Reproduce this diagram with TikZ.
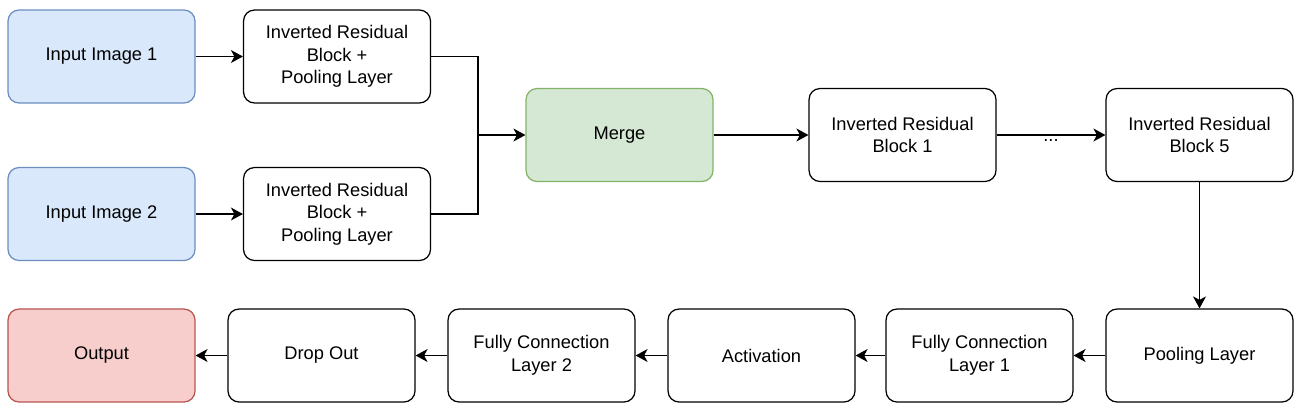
\documentclass[tikz,border=0pt]{standalone}
\usepackage{fontspec}
\setmainfont{Liberation Sans}
\usepackage{xcolor}
\usetikzlibrary{arrows.meta}
\tikzset{>={Stealth[width=2.6mm,length=2.4mm,inset=0.7mm]}}

\definecolor{blueF}{HTML}{DAE8FC}
\definecolor{blueD}{HTML}{6C8EBF}
\definecolor{greenF}{HTML}{D5E8D4}
\definecolor{greenD}{HTML}{82B366}
\definecolor{redF}{HTML}{F8CECC}
\definecolor{redD}{HTML}{B85450}

\tikzset{
  block/.style={draw=black, fill=white, rounded corners=0.22cm, line width=0.7pt,
    minimum width=3.74cm, minimum height=1.86cm, align=center,
    font=\fontsize{10.4}{12.8}\selectfont},
  inblock/.style={block, draw=blueD, fill=blueF},
  mergeblock/.style={block, draw=greenD, fill=greenF},
  outblock/.style={block, draw=redD, fill=redF},
  link/.style={line width=0.7pt, black}
}

\begin{document}
\begin{tikzpicture}[x=0.02cm,y=-0.02cm]

  \useasboundingbox (0,0) rectangle (1307,414);

  \node[inblock] (inone) at (101.5,56.5) {Input Image 1};
  \node[inblock] (intwo) at (101.5,214) {Input Image 2};
  \node[block] (irbone) at (337,56.5) {Inverted Residual\\Block +\\Pooling Layer};
  \node[block] (irbtwo) at (337,214) {Inverted Residual\\Block +\\Pooling Layer};

  \node[mergeblock] (merge) at (619.5,135) {Merge};
  \node[block] (blkone) at (902.5,135) {Inverted Residual\\Block 1};
  \node[block] (blkfive) at (1199.5,135) {Inverted Residual\\Block 5};

  \node[block] (pool) at (1199.5,355.5) {Pooling Layer};
  \node[block] (fcone) at (979.5,355.5) {Fully Connection\\Layer 1};
  \node[block] (act) at (761.5,355.5) {Activation};
  \node[block] (fctwo) at (541.5,355.5) {Fully Connection\\Layer 2};
  \node[block] (drop) at (321.5,355.5) {Drop Out};
  \node[outblock] (out) at (101.5,355.5) {Output};

  \coordinate (J) at (478,135);

  \draw[link,->] (inone) -- (irbone);
  \draw[link,->] (intwo) -- (irbtwo);
  \draw[link] (irbone.east) -| (J);
  \draw[link] (irbtwo.east) -| (J);
  \draw[link,->] (J) -- (merge.west);

  \draw[link,->] (merge) -- (blkone);
  \draw[link,->] (blkone) -- node[fill=white, inner sep=1pt, yshift=-3pt,
    font=\fontsize{10.4}{12.8}\selectfont] (dots) {...} (blkfive);
  \draw[link,->] (blkfive) -- (pool);

  \draw[link,->] (pool) -- (fcone);
  \draw[link,->] (fcone) -- (act);
  \draw[link,->] (act) -- (fctwo);
  \draw[link,->] (fctwo) -- (drop);
  \draw[link,->] (drop) -- (out);

\end{tikzpicture}
\end{document}
